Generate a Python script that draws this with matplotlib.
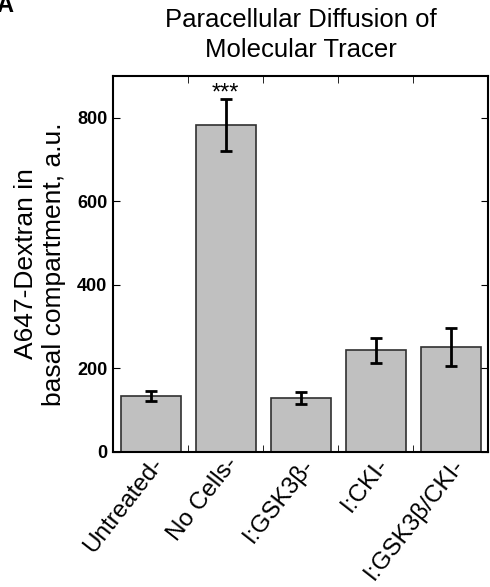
import numpy as np
import matplotlib
matplotlib.use('Agg')
import matplotlib.pyplot as plt
from matplotlib.ticker import FixedLocator

plt.rcParams['font.family'] = ['Liberation Sans', 'DejaVu Sans']

# data
categories = ['Untreated-', 'No Cells-', 'I:GSK3\u03b2-', 'I:CKI-', 'I:GSK3\u03b2/CKI-']
values = [134, 782, 129, 244, 252]
errors = [11, 62, 14, 30, 45]
y_ticks = [0, 200, 400, 600, 800]

fig = plt.figure(figsize=(4.9, 5.87), dpi=100)
ax = fig.add_axes([113/490, 1-452/587, 375/490, 376/587])

x = np.arange(len(categories))
ax.bar(x, values, width=0.8, color='#c0c0c0', edgecolor='#303030', linewidth=1.2)
ax.errorbar(x, values, yerr=errors, fmt='none', ecolor='black',
            elinewidth=2, capsize=4, capthick=2)
# significance mark above the "No Cells" bar
ax.text(x[1], values[1] + errors[1] + 14, '***', ha='center', va='center', fontsize=17)

ax.set_xlim(-0.5, len(categories) - 0.5)
ax.set_ylim(0, 900)
ax.set_yticks(y_ticks)
ax.set_yticklabels([str(v) for v in y_ticks], fontweight='bold', fontsize=13)
ax.set_xticks(x)
ax.set_xticklabels(categories, rotation=52, ha='right', rotation_mode='anchor', fontsize=17.5)
ax.tick_params(axis='x', which='major', length=0, pad=1)
ax.xaxis.set_minor_locator(FixedLocator(x[:-1] + 0.5))
ax.tick_params(axis='x', which='minor', direction='in', length=5, top=True, bottom=True)
ax.tick_params(axis='y', direction='in', length=5, right=True, left=True, pad=4)
for s in ax.spines.values():
    s.set_linewidth(1.5)

ax.set_ylabel('A647-Dextran in\nbasal compartment, a.u.', fontsize=19, labelpad=8)
ax.set_title('Paracellular Diffusion of\nMolecular Tracer', fontsize=18.5, pad=14, linespacing=1.3)

fig.text(-0.008, 0.99, 'A', fontsize=17, fontweight='bold', va='center')

fig.savefig('out.png', dpi=100)
